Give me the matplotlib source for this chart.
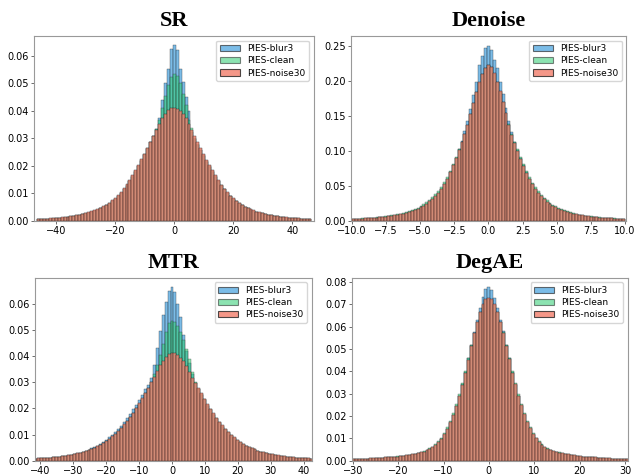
import numpy as np
import matplotlib
matplotlib.use('Agg')
import matplotlib.pyplot as plt
from matplotlib.ticker import MultipleLocator, FormatStrFormatter

# bin heights in units of 1e-4 (density)
LABELS = ['PIES-blur3', 'PIES-clean', 'PIES-noise30']
TITLES = ['SR', 'Denoise', 'MTR', 'DegAE']

# SR: bin width 1.0, centres -46..46
SR_BLUR3 = [5, 6, 6, 7, 8, 8, 9, 10, 11, 12, 14, 15, 17, 19, 21, 24, 26, 29, 32, 36, 40, 45, 50, 56, 63, 71, 80, 90, 101, 114,
            128, 144, 161, 179, 198, 218, 240, 262, 285, 308, 335, 375, 440, 500, 550, 625,
            638, 622, 552, 505, 450, 400, 322, 298, 277, 256, 235, 215, 196, 178, 160, 143, 128, 114, 101, 90, 80, 71, 63, 56,
            50, 45, 40, 36, 33, 30, 27, 24, 22, 20, 18, 16, 15, 13, 12, 11, 10, 9, 8, 8, 7, 6, 6]
SR_CLEAN = [6, 6, 7, 8, 8, 9, 10, 11, 12, 13, 15, 16, 18, 20, 22, 25, 27, 30, 33, 37, 41, 46, 51, 57, 64, 72, 81, 91, 102, 115,
            130, 146, 163, 181, 200, 220, 242, 264, 287, 310, 333, 365, 410, 455, 495, 522,
            532, 525, 500, 462, 420, 368, 338, 300, 280, 259, 238, 218, 198, 180, 162, 145, 130, 115, 102, 91, 81, 72, 64, 57,
            51, 46, 41, 37, 33, 30, 27, 25, 22, 20, 18, 17, 15, 14, 12, 11, 10, 9, 9, 8, 7, 7, 6]
SR_NOISE30 = [6, 7, 7, 8, 9, 10, 11, 12, 13, 14, 15, 17, 19, 21, 23, 26, 28, 31, 35, 38, 43, 48, 53, 59, 66, 74, 83, 93, 105, 118,
              133, 149, 166, 184, 203, 223, 244, 265, 287, 309, 331, 353, 373, 389, 401, 409,
              410, 408, 400, 388, 372, 352, 330, 308, 286, 264, 243, 222, 202, 183, 165, 148, 132, 117, 104, 92, 82, 73, 65, 58,
              52, 47, 42, 38, 34, 31, 28, 25, 23, 21, 19, 17, 15, 14, 13, 12, 11, 10, 9, 8, 8, 7, 7]

# Denoise: bin width 0.215, centres -46..46
DN_BLUR3 = [24, 26, 28, 30, 32, 35, 38, 41, 45, 49, 53, 58, 63, 69, 76, 83, 91, 100, 111, 123, 137, 153, 171, 192, 216,
            244, 275, 310, 352, 400, 458, 525, 603, 693, 795, 905, 1020, 1140, 1280, 1430, 1600, 1800, 1980, 2220, 2350, 2470,
            2500, 2440, 2300, 2180, 1990, 1810, 1610, 1430, 1270, 1130, 1010, 895, 792, 692, 600, 524, 458, 398, 348, 307,
            272, 242, 215, 191, 170, 152, 136, 122, 110, 99, 90, 82, 75, 68, 62, 57, 53, 49, 45, 42, 39, 36, 34, 32, 30, 28, 26]
DN_CLEAN = [28, 30, 32, 34, 37, 40, 43, 47, 51, 55, 60, 65, 71, 77, 85, 93, 102, 112, 124, 137, 152, 169, 189, 212, 238,
            268, 301, 339, 383, 433, 490, 555, 630, 715, 810, 912, 1020, 1130, 1245, 1375, 1530, 1685, 1835, 1975, 2095, 2185,
            2225, 2195, 2105, 1985, 1848, 1702, 1548, 1385, 1248, 1130, 1020, 910, 810, 712, 622, 545, 480, 420, 370, 328,
            292, 260, 232, 207, 185, 166, 149, 134, 121, 110, 100, 91, 83, 76, 70, 64, 59, 54, 50, 46, 43, 40, 37, 34, 32, 30, 28]
DN_NOISE30 = [26, 28, 30, 32, 34, 37, 40, 43, 47, 51, 55, 60, 65, 71, 78, 86, 94, 103, 114, 126, 140, 156, 174, 195, 219,
              247, 278, 313, 355, 402, 460, 527, 605, 695, 795, 900, 1010, 1120, 1240, 1370, 1530, 1690, 1840, 1980, 2100, 2190,
              2230, 2200, 2110, 1990, 1850, 1700, 1540, 1370, 1230, 1110, 1000, 890, 790, 690, 600, 525, 460, 400, 350, 310,
              275, 245, 218, 194, 173, 155, 139, 125, 113, 102, 93, 85, 78, 71, 65, 60, 55, 51, 47, 44, 41, 38, 35, 33, 31, 29, 27]

# MTR: bin width 0.9, centres -46..47
MTR_BLUR3 = [8, 9, 9, 10, 11, 12, 13, 14, 16, 17, 19, 21, 23, 25, 28, 31, 34, 38, 42, 47, 52, 58, 64, 71, 80, 89, 99, 110, 121,
             134, 148, 163, 179, 196, 213, 232, 252, 273, 290, 315, 365, 432, 495, 555, 605, 648,
             662, 645, 600, 548, 480, 420, 375, 330, 298, 272, 251, 230, 210, 192, 175, 159, 144, 130, 118, 106, 95, 85, 76, 68,
             61, 55, 50, 45, 41, 37, 33, 30, 28, 25, 23, 21, 19, 17, 16, 14, 13, 12, 11, 10, 9, 9, 8, 7]
MTR_CLEAN = [8, 8, 9, 10, 11, 12, 13, 14, 15, 17, 18, 20, 22, 24, 27, 29, 32, 36, 40, 44, 49, 54, 60, 67, 74, 83, 92, 102, 113,
             125, 138, 152, 167, 183, 200, 218, 237, 257, 278, 300, 332, 365, 405, 445, 490, 525,
             535, 530, 515, 492, 462, 428, 388, 338, 300, 275, 255, 234, 214, 196, 179, 163, 148, 134, 121, 109, 98, 88, 79, 71,
             64, 58, 52, 47, 43, 39, 35, 32, 29, 26, 24, 22, 20, 18, 17, 15, 14, 13, 12, 11, 10, 9, 9, 8]
MTR_NOISE30 = [8, 9, 10, 10, 11, 12, 13, 14, 16, 17, 19, 21, 23, 25, 28, 30, 33, 37, 41, 45, 50, 55, 61, 68, 75, 84, 93, 103, 114,
               126, 139, 153, 168, 184, 201, 219, 238, 258, 279, 299, 319, 342, 364, 382, 396, 406,
               412, 410, 404, 394, 380, 362, 340, 317, 297, 277, 257, 236, 216, 198, 181, 164, 149, 135, 122, 110, 99, 89, 80, 72,
               65, 58, 53, 48, 43, 39, 35, 32, 29, 27, 25, 23, 21, 19, 17, 16, 14, 13, 12, 11, 10, 10, 9, 8]

# DegAE: bin width 0.65, centres -46..47
DG_BLUR3 = [7, 7, 8, 8, 9, 9, 10, 10, 11, 12, 13, 14, 15, 16, 17, 18, 20, 21, 23, 25, 27, 30, 33, 36, 40, 45, 51, 58, 68, 81,
            97, 117, 142, 171, 205, 245, 290, 342, 398, 458, 520, 578, 630, 685, 735, 770,
            778, 765, 730, 685, 632, 580, 520, 458, 396, 341, 290, 245, 205, 171, 142, 117, 97, 81, 69, 59, 51, 46, 41, 37,
            34, 31, 29, 26, 24, 22, 21, 19, 18, 17, 16, 15, 14, 13, 12, 11, 10, 10, 9, 9, 8, 8, 7, 7]
DG_CLEAN = [8, 8, 9, 9, 10, 10, 11, 11, 12, 13, 14, 15, 16, 17, 18, 20, 21, 23, 25, 27, 29, 32, 35, 39, 43, 48, 55, 63, 74, 87,
            104, 124, 150, 180, 215, 255, 300, 350, 402, 460, 518, 572, 620, 664, 698, 720,
            726, 720, 698, 664, 621, 575, 520, 462, 402, 350, 300, 255, 215, 180, 150, 124, 103, 87, 74, 63, 55, 49, 44, 40,
            37, 34, 31, 28, 26, 24, 22, 21, 19, 18, 17, 16, 15, 14, 13, 12, 11, 11, 10, 10, 9, 9, 8, 8]
DG_NOISE30 = [8, 8, 9, 9, 10, 10, 11, 11, 12, 13, 14, 15, 16, 17, 18, 19, 21, 22, 24, 26, 28, 31, 34, 37, 41, 46, 52, 60, 70, 83,
              99, 119, 144, 173, 207, 246, 290, 340, 393, 452, 512, 570, 620, 665, 700, 724,
              730, 725, 700, 665, 620, 572, 515, 455, 395, 342, 292, 248, 208, 174, 145, 120, 100, 84, 71, 61, 53, 48, 43, 39,
              36, 33, 30, 28, 26, 24, 22, 21, 19, 18, 17, 16, 15, 14, 13, 12, 11, 11, 10, 10, 9, 9, 8, 8]

PANELS = [
	dict(series=[SR_BLUR3, SR_CLEAN, SR_NOISE30], width=1.0, first=-46, xlim=(-47.4, 47.2), ylim=0.0671,
	     xstep=20, ystep=0.01),
	dict(series=[DN_BLUR3, DN_CLEAN, DN_NOISE30], width=0.215, first=-46, xlim=(-10.07, 10.12), ylim=0.264,
	     xstep=2.5, ystep=0.05),
	dict(series=[MTR_BLUR3, MTR_CLEAN, MTR_NOISE30], width=0.9, first=-46, xlim=(-41.6, 42.4), ylim=0.0698,
	     xstep=10, ystep=0.01),
	dict(series=[DG_BLUR3, DG_CLEAN, DG_NOISE30], width=0.65, first=-46, xlim=(-30.1, 30.6), ylim=0.0819,
	     xstep=10, ystep=0.01),
]

COLORS = ['#3498db', '#2ecc71', '#f27d6b']
ALPHAS = [0.65, 0.55, 0.8]

# axes boxes in figure fraction
BOXES = [
	[0.054, 0.535, 0.439, 0.389],
	[0.552, 0.535, 0.433, 0.389],
	[0.055, 0.030, 0.435, 0.385],
	[0.554, 0.030, 0.433, 0.385],
]


def main():
	fig = plt.figure(figsize=(6.36, 4.75), dpi=100)
	for title, panel, box in zip(TITLES, PANELS, BOXES):
		ax = fig.add_axes(box)
		for vals, lab, col, a in zip(panel['series'], LABELS, COLORS, ALPHAS):
			h = np.array(vals) / 1e4
			x = (np.arange(len(h)) + panel['first']) * panel['width']
			ax.bar(x, h, width=panel['width'], color=col, alpha=a, edgecolor='#222222',
			       linewidth=0.35, label=lab)
		ax.set_xlim(*panel['xlim'])
		ax.set_ylim(0, panel['ylim'])
		ax.xaxis.set_major_locator(MultipleLocator(panel['xstep']))
		ax.yaxis.set_major_locator(MultipleLocator(panel['ystep']))
		ax.yaxis.set_major_formatter(FormatStrFormatter('%.2f'))
		ax.tick_params(labelsize=7, length=2.5, width=0.6, pad=1.5, color='#555555')
		for s in ax.spines.values():
			s.set_color('#999999')
			s.set_linewidth(0.8)
		ax.set_title(title, family='Liberation Serif', fontweight='bold', fontsize=16, pad=7)
		leg = ax.legend(loc='upper right', fontsize=6.5, handlelength=2.2, borderpad=0.4,
		                labelspacing=0.35, handletextpad=0.8)
		for p in leg.get_patches():
			p.set_linewidth(0.8)

	fig.savefig('out.png', dpi=100)


if __name__ == '__main__':
	main()
